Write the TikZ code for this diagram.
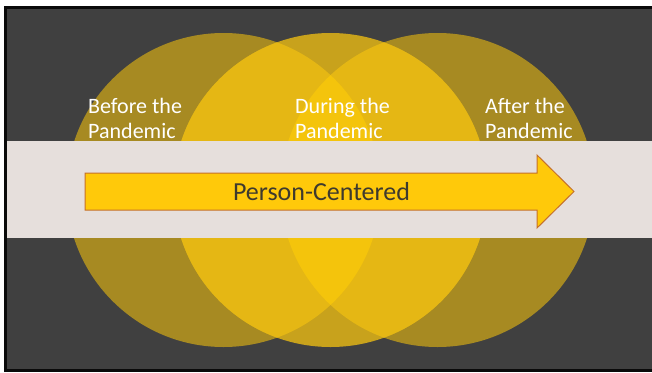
\documentclass[tikz,border=0pt]{standalone}
\usepackage{fontspec}
\setmainfont{Carlito}
\definecolor{frameblack}{HTML}{0A0A0A}
\definecolor{darkbg}{HTML}{404040}
\definecolor{cone}{HTML}{A78A22}
\definecolor{cmid}{HTML}{C8A21C}
\definecolor{ctwo}{HTML}{E5B714}
\definecolor{cthree}{HTML}{F4C40C}
\definecolor{bandcol}{HTML}{E6DFDC}
\definecolor{arrowfill}{HTML}{FFC90A}
\definecolor{arrowline}{HTML}{C5702A}
\definecolor{textdark}{HTML}{3E3A2E}
\tikzset{
  phase/.style={text=white, font=\fontsize{22}{25}\selectfont, align=left, anchor=north west, inner sep=0pt},
  mainlabel/.style={text=textdark, font=\fontsize{26}{30}\selectfont, anchor=base, inner sep=0pt},
}
\begin{document}
\begin{tikzpicture}[x=1pt,y=-1pt]
\useasboundingbox (0,0) rectangle (652,372);
\fill[white] (0,0) rectangle (652,372);
\fill[frameblack] (4,6) rectangle (652,372);
\fill[darkbg] (7,9) rectangle (652,369);
% circles
\coordinate (cL) at (223.5,190);
\coordinate (cM) at (330.5,190);
\coordinate (cR) at (437.5,190);
\fill[cone] (cL) circle (157);
\fill[cone] (cR) circle (157);
\fill[cmid] (cM) circle (157);
\begin{scope}
  \clip (cM) circle (157);
  \fill[ctwo] (cL) circle (157);
  \fill[ctwo] (cR) circle (157);
\end{scope}
\begin{scope}
  \clip (cM) circle (157);
  \clip (cL) circle (157);
  \fill[cthree] (cR) circle (157);
\end{scope}
% band
\fill[bandcol] (7,141) rectangle (652,238);
% arrow
\filldraw[fill=arrowfill, draw=arrowline, line width=1pt, line join=miter]
  (85,173) -- (537,173) -- (537,155) -- (574,191.5) -- (537,228) -- (537,210) -- (85,210) -- cycle;
% labels
\node[phase] (before) at (88,98) {Before the\\Pandemic};
\node[phase] (during) at (295,98) {During the\\Pandemic};
\node[phase] (after) at (485,98) {After the\\Pandemic};
\node[mainlabel] (pc) at (321.5,200) {Person-Centered};
\end{tikzpicture}
\end{document}
